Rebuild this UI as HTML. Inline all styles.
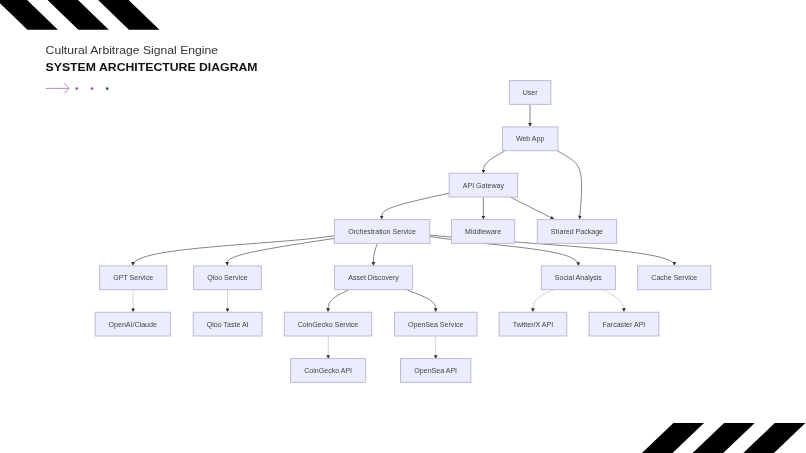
<!DOCTYPE html>
<html><head><meta charset="utf-8"><style>
html,body{margin:0;padding:0;background:#fff;}
body{width:806px;height:453px;position:relative;overflow:hidden;font-family:"Liberation Sans",sans-serif;}
svg{position:absolute;left:0;top:0;will-change:transform;}
text{font-family:"Liberation Sans",sans-serif;font-size:7.07px;fill:#444;}
</style></head><body>
<svg width="806" height="453" viewBox="0 0 806 453">
<polygon points="-3.4,0 27.1,0 57.9,29.8 27.4,29.8" fill="#000"/>
<polygon points="47.5,0 78.0,0 108.8,29.8 78.3,29.8" fill="#000"/>
<polygon points="98.1,0 128.6,0 159.4,29.8 128.9,29.8" fill="#000"/>
<polygon points="673.4,423 704.0,423 672.5,453 641.9,453" fill="#000"/>
<polygon points="724.1,423 754.7,423 723.2,453 692.6,453" fill="#000"/>
<polygon points="774.8,423 805.4,423 773.9,453 743.3,453" fill="#000"/>
<g fill="none" stroke="#b98ab9" stroke-width="1"><path d="M45.9,88.4 L68.6,88.4"/><path d="M64.2,83.3 L69.1,88.4 L64.2,93.5"/></g>
<circle cx="76.75" cy="88.6" r="1.35" fill="#a85aa8"/>
<circle cx="92" cy="88.6" r="1.35" fill="#a85aa8"/>
<circle cx="107.2" cy="88.6" r="1.35" fill="#2e5058"/>
<text transform="translate(45.6,53.8) scale(1.206,1)" style="font-size:10.1px;fill:#333;">Cultural Arbitrage Signal Engine</text>
<text transform="translate(45.6,70.9) scale(1.125,1)" style="font-size:10.9px;font-weight:700;fill:#111;">SYSTEM ARCHITECTURE DIAGRAM</text>
<defs><marker id="ar" viewBox="0 0 10 10" refX="9" refY="5" markerUnits="userSpaceOnUse" markerWidth="3.8" markerHeight="3.8" orient="auto"><path d="M0,0 L10,5 L0,10 z" fill="#333"/></marker></defs>
<path d="M530,104.75 L530,126.4" fill="none" stroke="#333" stroke-width="0.6" marker-end="url(#ar)"/>
<path d="M504.60,151.10 L501.08,153.02 C497.55,154.93 490.50,158.77 486.97,162.42 C483.44,166.07 483.42,169.53 483.41,171.27 L483.40,173.00" fill="none" stroke="#333" stroke-width="0.6" marker-end="url(#ar)"/>
<path d="M557.3,150.9 C581.8,164.4 584.4,164.3 579.6,219.0" fill="none" stroke="#333" stroke-width="0.6" marker-end="url(#ar)"/>
<path d="M449.1,193.2 C380.4,208.0 381.7,210.2 381.7,219.1" fill="none" stroke="#333" stroke-width="0.6" marker-end="url(#ar)"/>
<path d="M483.3,197.3 L483.3,219.1" fill="none" stroke="#333" stroke-width="0.6" marker-end="url(#ar)"/>
<path d="M510.3,197.1 L553.9,219.1" fill="none" stroke="#333" stroke-width="0.6" marker-end="url(#ar)"/>
<path d="M334.4,235.7 C272.9,245.2 133.0,246.5 133.0,265.3" fill="none" stroke="#333" stroke-width="0.6" marker-end="url(#ar)"/>
<path d="M334.40,238.40 L316.42,241.14 C298.43,243.88 262.46,249.36 244.63,253.84 C226.79,258.33 227.10,261.81 227.25,263.56 L227.40,265.30" fill="none" stroke="#333" stroke-width="0.6" marker-end="url(#ar)"/>
<path d="M377.5,243.4 C372.5,254.7 373.4,263.5 373.4,265.4" fill="none" stroke="#333" stroke-width="0.6" marker-end="url(#ar)"/>
<path d="M429.6,236.5 C504.8,247.8 578.3,248.5 578.3,265.6" fill="none" stroke="#333" stroke-width="0.6" marker-end="url(#ar)"/>
<path d="M429.6,235.1 C533.9,245.0 674.4,249.3 674.4,265.2" fill="none" stroke="#333" stroke-width="0.6" marker-end="url(#ar)"/>
<path d="M348.70,290.00 L345.32,291.56 C341.94,293.13 335.18,296.26 331.73,299.86 C328.28,303.46 328.14,307.53 328.07,309.56 L328.00,311.60" fill="none" stroke="#333" stroke-width="0.6" marker-end="url(#ar)"/>
<path d="M407.3,290.2 C437.1,300.5 435.6,304.5 435.6,311.6" fill="none" stroke="#333" stroke-width="0.6" marker-end="url(#ar)"/>
<path d="M133.1,289.7 L133.1,311.8" fill="none" stroke="#666" stroke-width="0.55" stroke-dasharray="1 1" marker-end="url(#ar)"/>
<path d="M227.5,289.7 L227.5,311.8" fill="none" stroke="#666" stroke-width="0.55" stroke-dasharray="1 1" marker-end="url(#ar)"/>
<path d="M553.4,290.0 C532.6,298.0 532.9,304.0 532.9,311.6" fill="none" stroke="#666" stroke-width="0.55" stroke-dasharray="1 1" marker-end="url(#ar)"/>
<path d="M603.30,289.80 L606.68,291.66 C610.07,293.52 616.83,297.25 620.28,300.88 C623.73,304.51 623.87,308.06 623.93,309.83 L624.00,311.60" fill="none" stroke="#666" stroke-width="0.55" stroke-dasharray="1 1" marker-end="url(#ar)"/>
<path d="M328.3,336.3 L328.3,358.6" fill="none" stroke="#666" stroke-width="0.55" stroke-dasharray="1 1" marker-end="url(#ar)"/>
<path d="M435.7,336.3 L435.7,358.6" fill="none" stroke="#666" stroke-width="0.55" stroke-dasharray="1 1" marker-end="url(#ar)"/>
<rect x="509.30" y="80.60" width="41.60" height="23.75" fill="#ECECFF" stroke="#bfb9d8" stroke-width="1"/>
<text x="530.10" y="95.00" text-anchor="middle">User</text>
<rect x="502.40" y="126.93" width="55.50" height="23.75" fill="#ECECFF" stroke="#bfb9d8" stroke-width="1"/>
<text x="530.15" y="141.33" text-anchor="middle">Web App</text>
<rect x="449.10" y="173.26" width="68.50" height="23.75" fill="#ECECFF" stroke="#bfb9d8" stroke-width="1"/>
<text x="483.35" y="187.66" text-anchor="middle">API Gateway</text>
<rect x="334.40" y="219.59" width="95.40" height="23.75" fill="#ECECFF" stroke="#bfb9d8" stroke-width="1"/>
<text x="382.10" y="233.99" text-anchor="middle">Orchestration Service</text>
<rect x="451.50" y="219.59" width="63.20" height="23.75" fill="#ECECFF" stroke="#bfb9d8" stroke-width="1"/>
<text x="483.10" y="233.99" text-anchor="middle">Middleware</text>
<rect x="537.30" y="219.59" width="79.30" height="23.75" fill="#ECECFF" stroke="#bfb9d8" stroke-width="1"/>
<text x="576.95" y="233.99" text-anchor="middle">Shared Package</text>
<rect x="99.60" y="265.92" width="67.20" height="23.75" fill="#ECECFF" stroke="#bfb9d8" stroke-width="1"/>
<text x="133.20" y="280.32" text-anchor="middle">GPT Service</text>
<rect x="193.60" y="265.92" width="67.70" height="23.75" fill="#ECECFF" stroke="#bfb9d8" stroke-width="1"/>
<text x="227.45" y="280.32" text-anchor="middle">Qloo Service</text>
<rect x="334.50" y="265.92" width="78.10" height="23.75" fill="#ECECFF" stroke="#bfb9d8" stroke-width="1"/>
<text x="373.55" y="280.32" text-anchor="middle">Asset Discovery</text>
<rect x="541.30" y="265.92" width="74.10" height="23.75" fill="#ECECFF" stroke="#bfb9d8" stroke-width="1"/>
<text x="578.35" y="280.32" text-anchor="middle">Social Analysis</text>
<rect x="637.70" y="265.92" width="73.10" height="23.75" fill="#ECECFF" stroke="#bfb9d8" stroke-width="1"/>
<text x="674.25" y="280.32" text-anchor="middle">Cache Service</text>
<rect x="95.10" y="312.25" width="75.30" height="23.75" fill="#ECECFF" stroke="#bfb9d8" stroke-width="1"/>
<text x="132.75" y="326.65" text-anchor="middle">OpenAI/Claude</text>
<rect x="193.20" y="312.25" width="68.90" height="23.75" fill="#ECECFF" stroke="#bfb9d8" stroke-width="1"/>
<text x="227.65" y="326.65" text-anchor="middle">Qloo Taste AI</text>
<rect x="284.30" y="312.25" width="87.40" height="23.75" fill="#ECECFF" stroke="#bfb9d8" stroke-width="1"/>
<text x="328.00" y="326.65" text-anchor="middle">CoinGecko Service</text>
<rect x="394.50" y="312.25" width="82.50" height="23.75" fill="#ECECFF" stroke="#bfb9d8" stroke-width="1"/>
<text x="435.75" y="326.65" text-anchor="middle">OpenSea Service</text>
<rect x="499.10" y="312.25" width="67.70" height="23.75" fill="#ECECFF" stroke="#bfb9d8" stroke-width="1"/>
<text x="532.95" y="326.65" text-anchor="middle">Twitter/X API</text>
<rect x="589.10" y="312.25" width="69.70" height="23.75" fill="#ECECFF" stroke="#bfb9d8" stroke-width="1"/>
<text x="623.95" y="326.65" text-anchor="middle">Farcaster API</text>
<rect x="290.60" y="358.58" width="75.10" height="23.75" fill="#ECECFF" stroke="#bfb9d8" stroke-width="1"/>
<text x="328.15" y="372.98" text-anchor="middle">CoinGecko API</text>
<rect x="400.50" y="358.58" width="70.40" height="23.75" fill="#ECECFF" stroke="#bfb9d8" stroke-width="1"/>
<text x="435.70" y="372.98" text-anchor="middle">OpenSea API</text>
</svg>
</body></html>
